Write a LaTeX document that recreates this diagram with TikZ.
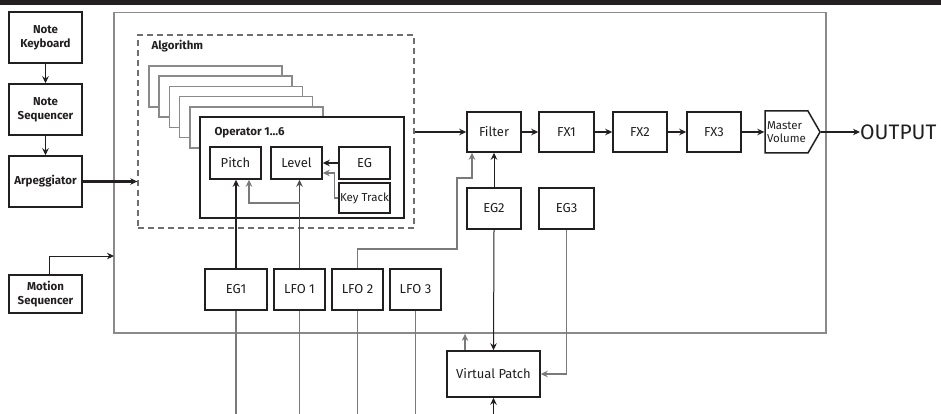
\documentclass[tikz,border=0pt]{standalone}
\usepackage{fontspec}
\setmainfont{Fira Sans}
\usetikzlibrary{arrows.meta, shapes.symbols}

\definecolor{ink}{HTML}{231F20}
\definecolor{framegray}{HTML}{8A8A8A}
\definecolor{wiregray}{HTML}{7A7A7A}

\tikzset{
  blk/.style={draw=ink, line width=1.5pt, rectangle, inner sep=1pt, text=ink, font=\fontsize{13}{14}\selectfont, align=center},
  srcblk/.style={blk, font=\bfseries\fontsize{11.5}{14}\selectfont},
  thin/.style={draw=ink, line width=1pt},
  thick/.style={draw=ink, line width=2.8pt},
  gwire/.style={draw=wiregray, line width=1.2pt},
  tip/.style={-{Stealth[length=7pt,width=6.5pt]}},
}

\begin{document}
\begin{tikzpicture}[x=1pt, y=-1pt, text=ink]
    \useasboundingbox (0,0) rectangle (941,414);

    % title bar and frames
    \fill[ink] (0,0) rectangle (941,4.7);
    \node[draw=framegray, line width=1.8pt, minimum width=712pt, minimum height=320.5pt] (main) at (470,172.75) {};
    \node[draw=framegray!80!black, dashed, dash pattern=on 6pt off 4pt, line width=1.3pt, minimum width=276pt, minimum height=193pt] (alg) at (276,131.5) {};
    \node[anchor=west, font=\bfseries\fontsize{11.5}{12}\selectfont] at (148,46) {Algorithm};

    % stacked operators
    \foreach \i in {0,...,4}
        \draw[draw=framegray, line width=1.6pt, fill=white] ({149+10.2*\i},{66+10.2*\i}) rectangle ++(133,41);
    \node[draw=ink, line width=2.2pt, fill=white, minimum width=204pt, minimum height=101pt] (op) at (302,167.5) {};
    \node[anchor=west, font=\bfseries\fontsize{11.5}{12}\selectfont] at (211,133) {Operator 1…6};

    % left column
    \node[srcblk, minimum width=73pt, minimum height=51pt] (nkb)  at (45.5,37.5)  {Note\\Keyboard};
    \node[srcblk, minimum width=73pt, minimum height=51pt] (nseq) at (45.5,109.5) {Note\\Sequencer};
    \node[srcblk, minimum width=73pt, minimum height=51pt] (arp)  at (45.5,181.5) {Arpeggiator};
    \node[srcblk, minimum width=73pt, minimum height=38pt] (mseq) at (45.5,294)   {Motion\\Sequencer};

    % operator contents
    \node[blk, minimum width=51pt, minimum height=32pt] (pitch)  at (235.5,163) {Pitch};
    \node[blk, minimum width=51pt, minimum height=32pt] (level)  at (296.5,163) {Level};
    \node[blk, minimum width=51pt, minimum height=32pt] (eg)     at (364.5,163) {EG};
    \node[blk, minimum width=51pt, minimum height=30pt, inner sep=0pt, font=\fontsize{11.5}{12}\selectfont] (ktrack) at (364.5,198) {Key Track};

    % modulators
    \node[blk, minimum width=62pt, minimum height=41pt] (eg1)  at (236,289.5)   {EG1};
    \node[blk, minimum width=51pt, minimum height=41pt] (lfo1) at (299.5,289.5) {LFO 1};
    \node[blk, minimum width=51pt, minimum height=41pt] (lfo2) at (357.5,289.5) {LFO 2};
    \node[blk, minimum width=51pt, minimum height=41pt] (lfo3) at (415.5,289.5) {LFO 3};
    \node[blk, minimum width=54pt, minimum height=41pt] (eg2)  at (494,208.5)   {EG2};
    \node[blk, minimum width=55pt, minimum height=41pt] (eg3)  at (566.5,208.5) {EG3};
    \node[blk, minimum width=93pt, minimum height=46pt] (vpatch) at (493.5,374) {Virtual Patch};

    % output chain
    \node[blk, minimum width=54pt, minimum height=40pt] (filter) at (494,132)   {Filter};
    \node[blk, minimum width=55pt, minimum height=40pt] (fx1)    at (566.5,132) {FX1};
    \node[blk, minimum width=54pt, minimum height=40pt] (fx2)    at (640,132)   {FX2};
    \node[blk, minimum width=54pt, minimum height=40pt] (fx3)    at (714,132)   {FX3};
    \node[blk, shape=signal, signal to=east, signal pointer angle=120, minimum width=55pt, minimum height=42pt,
          align=left, inner sep=1pt, font=\fontsize{11.5}{13}\selectfont] (master) at (786.5,132) {Master\\Volume};
    \node[anchor=west, inner sep=0pt, font=\fontsize{21}{22}\selectfont] (out) at (860,132) {OUTPUT};

    \coordinate (ms)  at (114,256);
    \coordinate (br)  at (249,203);
    \coordinate (l2a) at (357.5,249);
    \coordinate (l2b) at (457,249);
    \coordinate (l2c) at (457,178);
    \coordinate (l2d) at (472,178);
    \coordinate (bot) at (0,414);

    % note path
    \draw[thin, tip] (nkb) -- (nseq);
    \draw[thin, tip] (nseq) -- (arp);
    \draw[thick, tip] (arp.east) -- (arp.east -| alg.west);
    \draw[thin, tip] ([xshift=4pt]mseq.north) |- (ms);

    % audio path
    \draw[thick, tip] (alg.east |- filter.west) -- (filter.west);
    \draw[thick, tip] (filter) -- (fx1);
    \draw[thick, tip] (fx1) -- (fx2);
    \draw[thick, tip] (fx2) -- (fx3);
    \draw[draw=ink, line width=1.8pt, tip] (fx3) -- (master);
    \draw[draw=ink, line width=1.4pt, tip] (master.east) -- (out.west);

    % inside operator
    \draw[thick, tip] (eg) -- (level);
    \draw[gwire, tip] (ktrack.west) -- ++(-4,0) |- ([yshift=-10pt]level.east);
    \draw[thick, tip] (eg1.north) -- (eg1.north |- pitch.south);
    \draw[draw=ink!80, line width=1.2pt, tip] (lfo1.north) -- (lfo1.north |- level.south);
    \draw[gwire, tip] (lfo1.north |- br) -- (br) -- (br |- pitch.south);

    % modulation
    \draw[gwire, tip] (lfo2.north) -- (l2a) -- (l2b) -- (l2c) -- (l2d) -- (l2d |- filter.south);
    \draw[thin, tip] (eg2.north) -- (filter.south);
    \draw[thin, tip] (eg2.south) -- (vpatch.north);
    \draw[gwire, tip] (eg3.south) |- (vpatch.east);
    \draw[gwire, tip] ([xshift=-28.5pt]vpatch.north) -- ([xshift=-28.5pt]vpatch.north |- main.south);
    \draw[thin, tip] (vpatch.south |- bot) -- (vpatch.south);

    % lines leaving the panel
    \foreach \m in {eg1, lfo1, lfo2, lfo3}
        \draw[gwire] (\m.south) -- (\m.south |- bot);
\end{tikzpicture}
\end{document}
